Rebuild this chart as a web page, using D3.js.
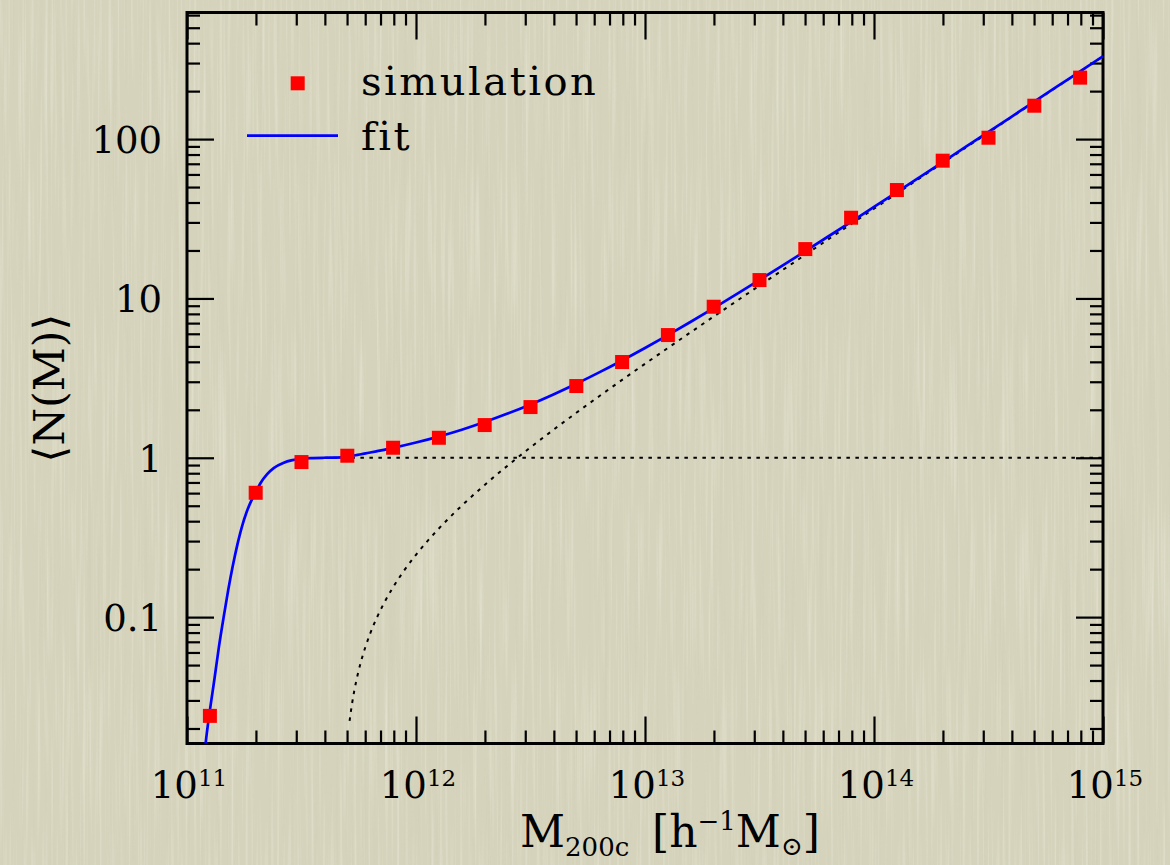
<!DOCTYPE html>
<html>
<head>
<meta charset="utf-8">
<script src="https://cdn.jsdelivr.net/npm/d3@7/dist/d3.min.js"></script>
<style>
  html, body { margin: 0; padding: 0; background: #d6d4bc; }
  svg { display: block; }
  text { font-family: "DejaVu Serif", "Liberation Serif", serif; fill: #000; }
</style>
</head>
<body>
<svg id="chart" width="1170" height="865"></svg>
<script>
// Halo occupation: mean galaxy count per halo versus halo mass (log10 M)
const simLogMass = [11.1, 11.3, 11.5, 11.7, 11.9, 12.1, 12.3, 12.5, 12.7, 12.9,
                    13.1, 13.3, 13.5, 13.7, 13.9, 14.1, 14.3, 14.5, 14.7, 14.9];
const simN = [0.024, 0.603, 0.94, 1.03, 1.156, 1.335, 1.604, 2.08, 2.82, 3.99,
              5.89, 8.87, 13.04, 20.4, 32.1, 47.9, 73.2, 102, 162, 243];

// fitted total occupation
const fitLogMass = [11.07, 11.08, 11.10, 11.12, 11.14, 11.16, 11.18, 11.20, 11.22, 11.24,
                    11.26, 11.28, 11.30, 11.32, 11.35, 11.38, 11.42, 11.46, 11.50, 11.55,
                    11.60, 11.65, 11.70, 11.71, 11.72, 11.73, 11.745, 11.76, 11.78, 11.80,
                    11.83, 11.86, 11.90, 11.95, 12.00, 12.05, 12.10, 12.20, 12.30, 12.40,
                    12.50, 12.60, 12.70, 12.80, 12.90, 13.00, 13.10, 13.20, 13.30, 13.40,
                    13.50, 13.60, 13.70, 13.80, 13.90, 14.00, 14.10, 14.20, 14.30, 14.40,
                    14.50, 14.60, 14.70, 14.80, 14.90, 15.00];
const fitN = [0.011, 0.0155, 0.026, 0.041, 0.066, 0.100, 0.148, 0.210, 0.285, 0.370,
              0.455, 0.535, 0.605, 0.690, 0.790, 0.865, 0.928, 0.966, 0.986, 0.996,
              1.000, 1.002, 1.014, 1.022, 1.028, 1.034, 1.043, 1.053, 1.066, 1.079,
              1.100, 1.122, 1.154, 1.198, 1.246, 1.300, 1.360, 1.501, 1.676, 1.893,
              2.162, 2.498, 2.915, 3.435, 4.082, 4.887, 5.890, 7.139, 8.694, 10.63,
              13.05, 16.05, 19.80, 24.47, 30.28, 37.53, 46.55, 57.80, 71.81, 89.27,
              111.0, 138.1, 171.9, 214.0, 266.3, 331.6];

// satellite term (dotted)
const satLogMass = [11.71, 11.72, 11.73, 11.745, 11.76, 11.78, 11.80, 11.83, 11.86, 11.90,
                    11.95, 12.00, 12.05, 12.10, 12.20, 12.30, 12.40, 12.50, 12.60, 12.70,
                    12.80, 12.90, 13.00, 13.20, 13.40, 13.60, 13.80, 14.00, 14.20, 14.40,
                    14.60, 14.80, 15.00];
const satN = [0.0223, 0.0282, 0.0342, 0.0433, 0.0527, 0.0656, 0.0789, 0.0999, 0.1221, 0.1540,
              0.1977, 0.2462, 0.3000, 0.3599, 0.5008, 0.6756, 0.8926, 1.162, 1.498, 1.915,
              2.435, 3.082, 3.887, 6.139, 9.632, 15.05, 23.47, 36.53, 56.80, 88.27,
              137.1, 213.0, 330.6];

// central term plateau (dotted)
const cenLogMass = [11.6, 15.0];
const cenN = [1, 1];

const xMajor = [11, 12, 13, 14, 15];
const yMajor = [0.1, 1, 10, 100];
const yMajorLabels = ["0.1", "1", "10", "100"];
const legendLabels = ["simulation", "fit"];

(function draw() {
  const svg = d3.select("#chart");
  const W = 1170, H = 865;
  const pL = 187, pR = 1103, pT = 12.5, pB = 743.5;

  // paper background with faint vertical grain
  const defs = svg.append("defs");
  const f = defs.append("filter").attr("id", "grain").attr("x", 0).attr("y", 0)
    .attr("width", "100%").attr("height", "100%");
  f.append("feTurbulence").attr("type", "fractalNoise")
    .attr("baseFrequency", "0.35 0.006").attr("numOctaves", 2).attr("seed", 7);
  f.append("feColorMatrix").attr("type", "matrix")
    .attr("values", "0 0 0 0 1  0 0 0 0 1  0 0 0 0 0.95  1.6 0 0 0 -0.78");
  const f2 = defs.append("filter").attr("id", "grain2").attr("x", 0).attr("y", 0)
    .attr("width", "100%").attr("height", "100%");
  f2.append("feTurbulence").attr("type", "fractalNoise")
    .attr("baseFrequency", "0.25 0.004").attr("numOctaves", 2).attr("seed", 3);
  f2.append("feColorMatrix").attr("type", "matrix")
    .attr("values", "0 0 0 0 0.55  0 0 0 0 0.53  0 0 0 0 0.42  -1.4 0 0 0 0.62");

  svg.append("rect").attr("width", W).attr("height", H).attr("fill", "#d5d3bb");
  svg.append("rect").attr("width", W).attr("height", H).attr("filter", "url(#grain)").attr("opacity", 0.45);
  svg.append("rect").attr("width", W).attr("height", H).attr("filter", "url(#grain2)").attr("opacity", 0.35);

  defs.append("clipPath").attr("id", "plotclip").append("rect")
    .attr("x", pL).attr("y", pT).attr("width", pR - pL).attr("height", pB - pT);

  const x = d3.scaleLog().domain([1e11, 1e15]).range([pL, pR]);
  const y = d3.scaleLog().domain([0.0161, 623]).range([pB, pT]);

  // minor tick values
  const xMinor = [];
  for (let e = 11; e < 15; e++) for (let k = 2; k <= 9; k++) xMinor.push(k * Math.pow(10, e));
  const yMinor = [];
  for (let e = -2; e <= 2; e++) for (let k = 2; k <= 9; k++) {
    const v = k * Math.pow(10, e);
    if (v > 0.0161 && v < 623) yMinor.push(v);
  }
  const xMajorVals = xMajor.map(e => Math.pow(10, e));

  const MAJ = 27, MIN = 13;
  function styleAxis(g) {
    g.select(".domain").remove();
    g.selectAll(".tick line").attr("stroke", "#000").attr("stroke-width", 2.2);
  }
  // bottom & top
  svg.append("g").attr("transform", `translate(0,${pB})`)
    .call(d3.axisBottom(x).tickValues(xMinor).tickSize(-MIN).tickFormat("")).call(styleAxis);
  svg.append("g").attr("transform", `translate(0,${pB})`)
    .call(d3.axisBottom(x).tickValues(xMajorVals).tickSize(-MAJ).tickFormat("")).call(styleAxis);
  svg.append("g").attr("transform", `translate(0,${pT})`)
    .call(d3.axisTop(x).tickValues(xMinor).tickSize(-MIN).tickFormat("")).call(styleAxis);
  svg.append("g").attr("transform", `translate(0,${pT})`)
    .call(d3.axisTop(x).tickValues(xMajorVals).tickSize(-MAJ).tickFormat("")).call(styleAxis);
  // left & right
  svg.append("g").attr("transform", `translate(${pL},0)`)
    .call(d3.axisLeft(y).tickValues(yMinor).tickSize(-MIN).tickFormat("")).call(styleAxis);
  const yAx = svg.append("g").attr("transform", `translate(${pL},0)`)
    .call(d3.axisLeft(y).tickValues(yMajor).tickSize(-MAJ).tickPadding(25)
      .tickFormat((d, i) => yMajorLabels[i])).call(styleAxis);
  yAx.selectAll("text").attr("font-size", 37).attr("font-family", "DejaVu Serif")
    .attr("fill", "#000").attr("dy", "0.36em");
  svg.append("g").attr("transform", `translate(${pR},0)`)
    .call(d3.axisRight(y).tickValues(yMinor).tickSize(-MIN).tickFormat("")).call(styleAxis);
  svg.append("g").attr("transform", `translate(${pR},0)`)
    .call(d3.axisRight(y).tickValues(yMajor).tickSize(-MAJ).tickFormat("")).call(styleAxis);

  // x tick labels as powers of ten
  const xl = svg.append("g").selectAll("text").data(xMajor).join("text")
    .attr("x", d => x(Math.pow(10, d)) + 2).attr("y", 798)
    .attr("text-anchor", "middle").attr("font-size", 37);
  xl.append("tspan").text("10");
  xl.append("tspan").attr("font-size", 23).attr("dy", -12).text(d => d);

  // frame
  svg.append("rect").attr("x", pL).attr("y", pT).attr("width", pR - pL)
    .attr("height", pB - pT).attr("fill", "none").attr("stroke", "#000").attr("stroke-width", 3);

  const plot = svg.append("g").attr("clip-path", "url(#plotclip)");
  const line = d3.line().x(d => x(Math.pow(10, d[0]))).y(d => y(d[1])).curve(d3.curveMonotoneX);

  plot.append("path").datum(d3.zip(cenLogMass, cenN)).attr("d", line)
    .attr("fill", "none").attr("stroke", "#000").attr("stroke-width", 2)
    .attr("stroke-dasharray", "3.5 5.5");
  plot.append("path").datum(d3.zip(satLogMass, satN)).attr("d", line)
    .attr("fill", "none").attr("stroke", "#000").attr("stroke-width", 2)
    .attr("stroke-dasharray", "3.5 5.5");
  plot.append("path").datum(d3.zip(fitLogMass, fitN)).attr("d", line)
    .attr("fill", "none").attr("stroke", "#0000ff").attr("stroke-width", 2.7);

  const S = 14;
  plot.selectAll("rect.sim").data(d3.zip(simLogMass, simN)).join("rect")
    .attr("class", "sim")
    .attr("x", d => x(Math.pow(10, d[0])) - S / 2).attr("y", d => y(d[1]) - S / 2)
    .attr("width", S).attr("height", S).attr("fill", "#ff0000");

  // legend
  svg.append("rect").attr("x", 297.7 - S / 2).attr("y", 83.3 - S / 2)
    .attr("width", S).attr("height", S).attr("fill", "#ff0000");
  svg.append("line").attr("x1", 247).attr("x2", 338).attr("y1", 135.7).attr("y2", 135.7)
    .attr("stroke", "#0000ff").attr("stroke-width", 2.7);
  svg.append("text").attr("x", 361).attr("y", 95).attr("font-size", 40)
    .attr("letter-spacing", 2.5).text(legendLabels[0]);
  svg.append("text").attr("x", 361).attr("y", 150).attr("font-size", 40)
    .attr("letter-spacing", 2.5).text(legendLabels[1]);

  // axis titles
  const xt = svg.append("text").attr("x", 520).attr("y", 847).attr("font-size", 44);
  xt.append("tspan").text("M");
  xt.append("tspan").attr("font-size", 26).attr("dy", 9).text("200c");
  xt.append("tspan").attr("dy", -9).text("\u00a0\u2009[h");
  xt.append("tspan").attr("font-size", 26).attr("dy", -17).text("\u22121");
  xt.append("tspan").attr("dy", 17).text("M");
  xt.append("tspan").attr("font-size", 26).attr("dy", 8).text("\u2299");
  xt.append("tspan").attr("dy", -8).text("]");

  svg.append("text").attr("transform", "translate(64,388) rotate(-90)")
    .attr("text-anchor", "middle").attr("font-size", 43).text("\u27e8N(M)\u27e9");
})();
</script>
</body>
</html>
